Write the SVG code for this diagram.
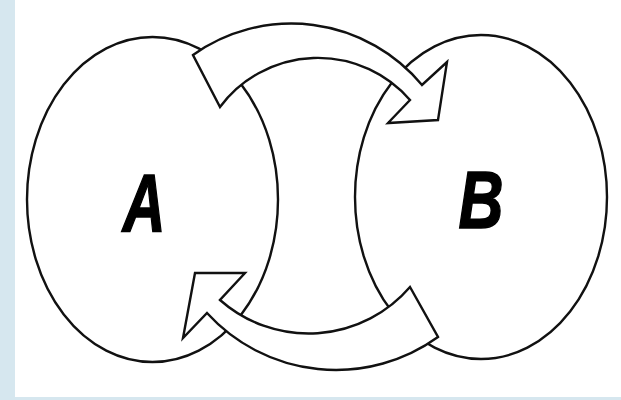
<svg xmlns="http://www.w3.org/2000/svg" width="621" height="400" viewBox="0 0 621 400">
  <style>
    .shape { fill: #ffffff; stroke: #111111; stroke-width: 2.4; stroke-linejoin: miter; }
    .label { font-family: "Liberation Sans", Arial, sans-serif; font-weight: bold; font-style: italic; font-size: 82px; fill: #000000; stroke: #000000; stroke-width: 1.6; text-anchor: middle; }
  </style>
  <rect x="0" y="0" width="621" height="400" fill="#d6e7ef"/>
  <rect x="15" y="0" width="606" height="397" fill="#ffffff"/>
  <g id="nodeA">
    <ellipse class="shape" cx="152.5" cy="199.5" rx="125.5" ry="162.5"/>
    <text class="label" transform="translate(144,231) scale(0.72,1)">A</text>
  </g>
  <g id="nodeB">
    <ellipse class="shape" cx="481" cy="197" rx="126" ry="162"/>
    <text class="label" transform="translate(481,228) scale(0.76,1)">B</text>
  </g>
  <g id="connectors">
    <path id="arrowAB" class="shape" d="M 193,55 A 169.7 169.7 0 0 1 422,85 L 447,62 L 438,120 L 388,123 L 410,100 A 121.9 121.9 0 0 0 220,107 Z"/>
    <path id="arrowBA" class="shape" d="M 438,337 A 174.5 174.5 0 0 1 207,313 L 183,338 L 195,273 L 245,273 L 220,300 A 133.8 133.8 0 0 0 410,287 Z"/>
  </g>
</svg>
